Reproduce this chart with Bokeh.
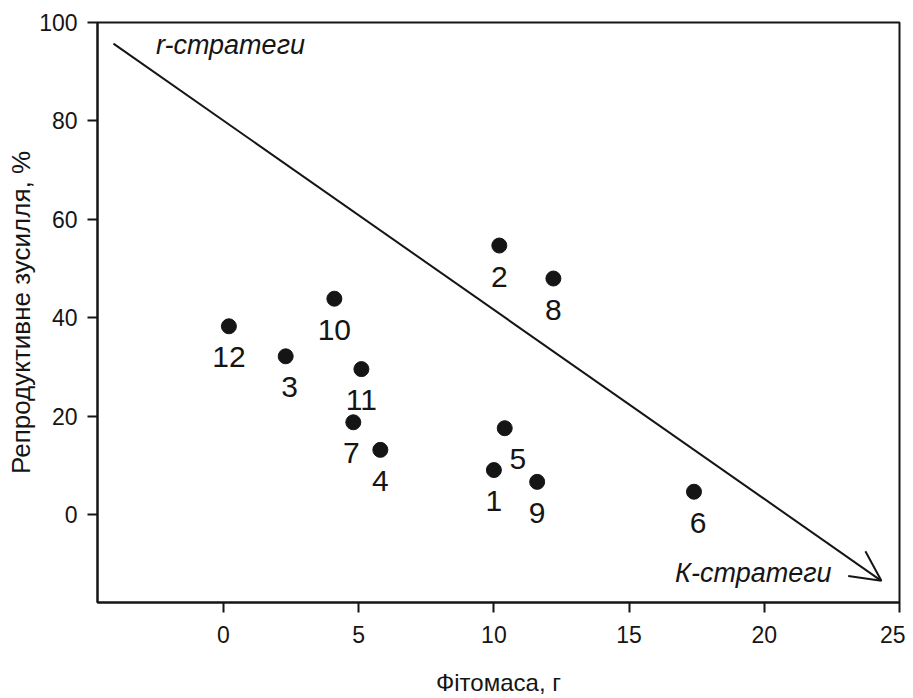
from bokeh.plotting import figure
from bokeh.models import Range1d, FixedTicker, ColumnDataSource, LabelSet, Label, Arrow, OpenHead
from bokeh.core.properties import value
from bokeh.embed import file_html
from bokeh.resources import INLINE

# ---- data ----
species = ["1", "2", "3", "4", "5", "6", "7", "8", "9", "10", "11", "12"]
phytomass = [10.0, 10.2, 2.3, 5.8, 10.4, 17.4, 4.8, 12.2, 11.6, 4.1, 5.1, 0.2]
repro_effort = [9.1, 54.7, 32.2, 13.2, 17.6, 4.7, 18.8, 48.0, 6.7, 43.9, 29.6, 38.3]
label_dx = [0, 0, 4, 0, 13, 4, -2, 0, 0, 0, 0, 0]

x_ticks = [0, 5, 10, 15, 20, 25]
y_ticks = [0, 20, 40, 60, 80, 100]

trend_x = [-4.07, 24.33]
trend_y = [95.7, -13.4]
r_text_pos = [-2.5, 95.5]
k_text_pos = [16.7, -11.9]

x_title = "Фітомаса, г"
y_title = "Репродуктивне зусилля, %"
r_label = "r-стратеги"
k_label = "К-стратеги"

FONT = "Liberation Sans"
INK = "#151515"

p = figure(width=905, height=698, output_backend="svg", toolbar_location=None,
           x_range=Range1d(-4.66, 25), y_range=Range1d(-17.8, 100),
           min_border_left=97, min_border_right=6, min_border_top=22, min_border_bottom=94,
           background_fill_color="white", border_fill_color="white")

p.xgrid.visible = False
p.ygrid.visible = False
p.outline_line_color = INK
p.outline_line_width = 2
p.outline_line_alpha = 1

for ax in (p.xaxis[0], p.yaxis[0]):
    ax.axis_line_color = INK
    ax.axis_line_width = 2
    ax.major_tick_line_color = INK
    ax.major_tick_line_width = 2
    ax.major_tick_in = 0
    ax.major_tick_out = 10
    ax.minor_tick_line_color = None
    ax.major_label_text_font = FONT
    ax.major_label_text_color = INK
    ax.axis_label_text_font = FONT
    ax.axis_label_text_font_style = "normal"
    ax.axis_label_text_color = INK

p.xaxis.ticker = FixedTicker(ticks=x_ticks)
p.yaxis.ticker = FixedTicker(ticks=y_ticks)
p.xaxis.major_label_text_font_size = "23px"
p.yaxis.major_label_text_font_size = "23px"
p.xaxis.major_label_standoff = 13
p.yaxis.major_label_standoff = 10
p.xaxis.axis_label = x_title
p.yaxis.axis_label = y_title
p.xaxis.axis_label_text_font_size = "24px"
p.yaxis.axis_label_text_font_size = "26px"
p.xaxis.axis_label_standoff = 23
p.yaxis.axis_label_standoff = 0

src = ColumnDataSource(dict(x=phytomass, y=repro_effort, name=species, dx=label_dx))
p.scatter("x", "y", source=src, size=15, color=INK)

labels = LabelSet(x="x", y="y", text="name", source=src, x_offset="dx", y_offset=-31,
                  text_align="center", text_baseline="middle",
                  text_font=value(FONT), text_font_size="30px", text_color=INK)
p.add_layout(labels)

p.add_layout(Arrow(end=OpenHead(size=30, line_width=2, line_color=INK),
                   x_start=trend_x[0], y_start=trend_y[0], x_end=trend_x[1], y_end=trend_y[1],
                   line_width=2, line_color=INK))

p.add_layout(Label(x=r_text_pos[0], y=r_text_pos[1], text=r_label, text_font=FONT,
                   text_font_size="27px", text_font_style="italic", text_color=INK,
                   text_baseline="middle", text_align="left"))
p.add_layout(Label(x=k_text_pos[0], y=k_text_pos[1], text=k_label, text_font=FONT,
                   text_font_size="27px", text_font_style="italic", text_color=INK,
                   text_baseline="middle", text_align="left"))

open("out.html", "w").write(file_html(p, INLINE))
